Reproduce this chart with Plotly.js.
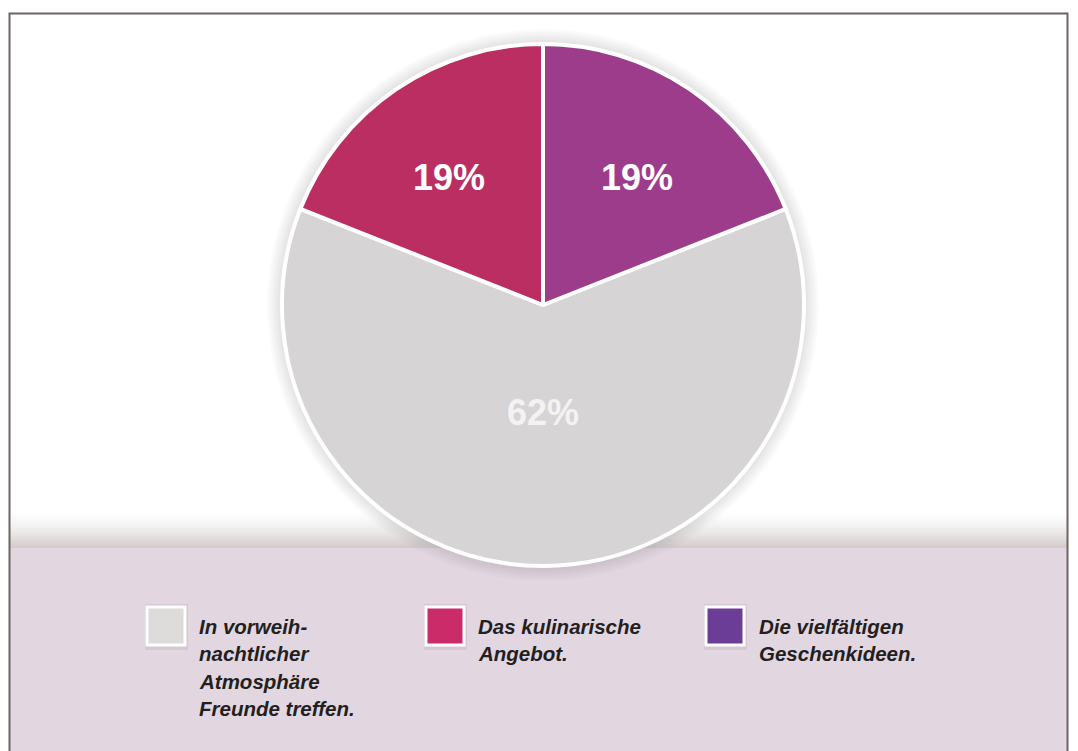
<!DOCTYPE html>
<html>
<head>
<meta charset="utf-8">
<script src="https://cdn.plot.ly/plotly-3.0.1.min.js"></script>
<style>
html,body{margin:0;padding:0;background:#fff;}
#chart{width:1078px;height:751px;}
</style>
</head>
<body>
<div id="chart"></div>
<script>
// ---- data ----
var categories = ["In vorweih-<br>nachtlicher<br>Atmosphäre<br>Freunde treffen.", "Das kulinarische<br>Angebot.", "Die vielfältigen<br>Geschenkideen."];
var values = [62, 19, 19];
var sliceColors = ["#D6D4D5", "#BB2E61", "#9C3C8B"];
var legendColors = ["#DDDCDB", "#CB2C69", "#6C3D97"];

var W = 1078, H = 751;
function px(x){return x / W;}
function py(y){return 1 - y / H;}

var shapes = [];
// lavender footer band
shapes.push({type:"rect", xref:"paper", yref:"paper", x0:px(10), x1:px(1067), y0:py(751), y1:py(548),
  fillcolor:"#E2D6E1", line:{width:0}, layer:"below"});
// shadow gradient above the band
var gradSteps = 19;
for (var i = 0; i < gradSteps; i++) {
  var y0 = 510 + i * 2, y1 = y0 + 2;
  var op = Math.pow((i + 1) / gradSteps, 1.6) * 0.55;
  shapes.push({type:"rect", xref:"paper", yref:"paper", x0:px(10), x1:px(1067), y0:py(y1), y1:py(y0),
    fillcolor:"rgba(175,163,160," + op.toFixed(3) + ")", line:{width:0}, layer:"below"});
}
// soft pie shadow
for (var k = 0; k < 6; k++) {
  var r = 263 + k * 2.5;
  shapes.push({type:"circle", xref:"paper", yref:"paper", x0:px(543 - r), x1:px(543 + r), y0:py(305 + r), y1:py(305 - r),
    fillcolor:"rgba(120,110,110,0.035)", line:{width:0}, layer:"below"});
}
// frame
shapes.push({type:"path", xref:"paper", yref:"paper",
  path:"M " + px(9.5) + " " + py(751) + " L " + px(9.5) + " " + py(13.5) + " L " + px(1067.5) + " " + py(13.5) + " L " + px(1067.5) + " " + py(751),
  line:{color:"#6E6462", width:2}});

// legend (squares + text)
var legX = [147, 426, 706];
var legTextX = [197, 476, 757];
var annotations = [];
for (var j = 0; j < categories.length; j++) {
  shapes.push({type:"rect", xref:"paper", yref:"paper", x0:px(legX[j] - 2), x1:px(legX[j] + 41), y0:py(650), y1:py(604),
    fillcolor:"rgba(120,100,110,0.12)", line:{width:0}});
  shapes.push({type:"rect", xref:"paper", yref:"paper", x0:px(legX[j]), x1:px(legX[j] + 38), y0:py(645), y1:py(607),
    fillcolor:legendColors[j], line:{color:"#FFFFFF", width:3}});
  var lines = categories[j].split("<br>");
  for (var m = 0; m < lines.length; m++) {
    annotations.push({xref:"paper", yref:"paper", x:px(legTextX[j]), y:py(626 + m * 27.5),
      xanchor:"left", yanchor:"middle", showarrow:false, align:"left", text:lines[m],
      font:{family:"Liberation Sans, Arial, sans-serif", size:20.5, color:"#231F21", style:"italic", weight:"bold"}});
  }
}

var trace = {
  type:"pie",
  values: values,
  labels: categories,
  sort:false,
  direction:"clockwise",
  rotation: 68.4,
  marker:{colors: sliceColors, line:{color:"#FFFFFF", width:4}},
  textinfo:"percent",
  texttemplate:["%{percent:.0%}<br>&nbsp;", "<span style='font-size:9px'>&nbsp;</span><br>%{percent:.0%}", "<span style='font-size:9px'>&nbsp;</span><br>%{percent:.0%}"],
  textposition:"inside",
  insidetextorientation:"horizontal",
  textfont:{family:"Liberation Sans, Arial, sans-serif", size:36, color:["#F4F2F3","#FFFFFF","#FFFFFF"], weight:"bold"},
  hoverinfo:"label+percent",
  domain:{x:[px(543 - 261), px(543 + 261)], y:[py(305 + 261), py(305 - 261)]},
  showlegend:false
};

var layout = {
  width: W, height: H,
  margin:{l:0, r:0, t:0, b:0},
  paper_bgcolor:"#FFFFFF",
  plot_bgcolor:"#FFFFFF",
  showlegend:false,
  shapes: shapes,
  annotations: annotations
};

Plotly.newPlot("chart", [trace], layout, {displayModeBar:false, staticPlot:true});
</script>
</body>
</html>
